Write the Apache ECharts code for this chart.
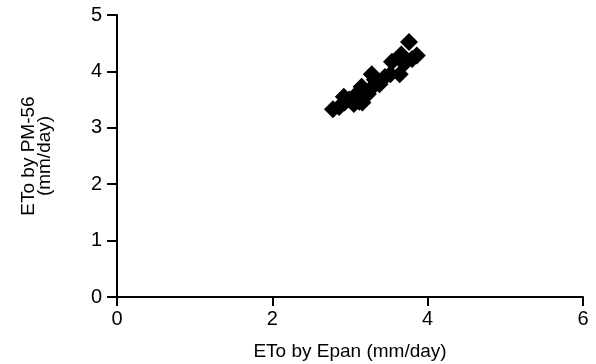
<!DOCTYPE html>
<html>
<head>
<meta charset="utf-8">
<script src="https://cdn.jsdelivr.net/npm/echarts@6/dist/echarts.min.js"></script>
<style>
  html, body {margin: 0; padding: 0; background: #fff;}
  #chart {width: 596px; height: 364px;}
</style>
</head>
<body>
<div id="chart"></div>
<script>
// ETo by Epan vs ETo by PM-56 (mm/day)
const epan = [2.78, 2.86, 2.92, 2.93, 2.99, 3.05, 3.08, 3.12, 3.15, 3.16, 3.23, 3.28, 3.28, 3.32, 3.38, 3.45, 3.54, 3.52, 3.64, 3.66, 3.70, 3.80, 3.86, 3.76];
const pm56 = [3.33, 3.37, 3.55, 3.45, 3.50, 3.42, 3.59, 3.46, 3.73, 3.45, 3.60, 3.71, 3.95, 3.85, 3.77, 3.90, 4.17, 3.95, 3.95, 4.30, 4.14, 4.22, 4.28, 4.52];
const xTicks = [0, 2, 4, 6];
const yTicks = [0, 1, 2, 3, 4, 5];

const points = epan.map((x, i) => [x, pm56[i]]);
const chart = echarts.init(document.getElementById('chart'));
const font = 'Liberation Sans, Arial, sans-serif';

chart.setOption({
    animation: false,
    textStyle: {fontFamily: font, color: '#000'},
    grid: {left: 117, right: 13, top: 15, bottom: 67, containLabel: false, outerBoundsMode: 'none'},
    xAxis: {
        type: 'value',
        min: xTicks[0],
        max: xTicks[xTicks.length - 1],
        interval: 2,
        name: 'ETo by Epan (mm/day)',
        nameLocation: 'middle',
        nameGap: 45,
        nameTextStyle: {fontSize: 19, color: '#000'},
        splitLine: {show: false},
        axisLine: {onZero: false, lineStyle: {color: '#000', width: 2}},
        axisTick: {show: true, length: 9, lineStyle: {color: '#000', width: 2}},
        axisLabel: {fontSize: 20, color: '#000', margin: 12}
    },
    yAxis: {
        type: 'value',
        min: yTicks[0],
        max: yTicks[yTicks.length - 1],
        interval: 1,
        name: 'ETo by PM-56\n(mm/day)',
        nameLocation: 'middle',
        nameGap: 64,
        nameRotate: 90,
        nameTextStyle: {fontSize: 19, color: '#000', lineHeight: 16},
        splitLine: {show: false},
        axisLine: {onZero: false, lineStyle: {color: '#000', width: 2}},
        axisTick: {show: true, length: 10, lineStyle: {color: '#000', width: 2}},
        axisLabel: {fontSize: 20, color: '#000', margin: 15}
    },
    series: [{
        type: 'scatter',
        symbol: 'diamond',
        symbolSize: 18,
        itemStyle: {color: '#000', opacity: 1},
        data: points
    }]
});
</script>
</body>
</html>
